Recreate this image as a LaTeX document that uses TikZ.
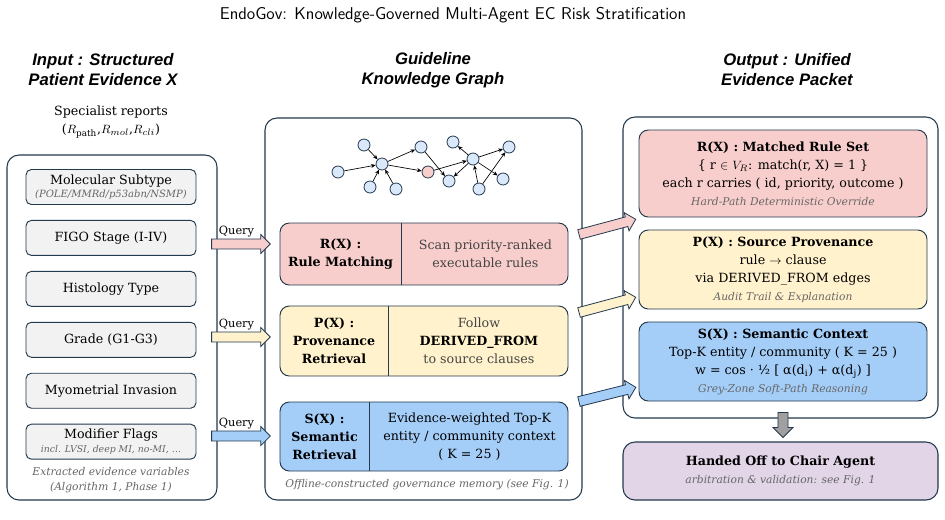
\documentclass[tikz,border=0pt]{standalone}
\usepackage{fontspec}
\setmainfont{DejaVu Serif}
\newfontfamily\headfont{Liberation Sans}
\usetikzlibrary{arrows.meta,positioning,shapes.arrows,calc}
\definecolor{EgLine}{HTML}{23394D}
\definecolor{EgGrey}{HTML}{F2F2F2}
\definecolor{EgPink}{HTML}{F8CECC}
\definecolor{EgYellow}{HTML}{FFF2CC}
\definecolor{EgBlue}{HTML}{A4CEF8}
\definecolor{EgLilac}{HTML}{E1D5E7}
\definecolor{EgNode}{HTML}{DAE8FC}
\definecolor{EgNote}{HTML}{666666}
\definecolor{EgSoft}{HTML}{444444}
\definecolor{EgDown}{HTML}{A0A0A0}
\newcommand\egcap{\fontsize{8}{10}\selectfont\itshape\color{EgNote}}
\tikzset{
  egpanel/.style={
    draw=EgLine,
    fill=white,
    rounded corners=9pt,
    line width=0.8pt
  },
  egfield/.style={
    draw=EgLine,
    fill=EgGrey,
    rounded corners=4pt,
    line width=0.7pt,
    minimum width=127.5pt,
    minimum height=26.25pt,
    align=center,
    inner sep=2pt,
    font=\fontsize{9.5}{11}\selectfont
  },
  egrule/.style={
    draw=EgLine,
    rounded corners=7pt,
    line width=0.7pt,
    minimum width=216pt
  },
  egtext/.style={font=\fontsize{9.5}{13.5}\selectfont,align=center},
  egbold/.style={font=\fontsize{9.5}{13.5}\selectfont\bfseries,align=center},
  egsoft/.style={egtext,text=EgSoft},
  egnote/.style={font=\fontsize{8}{11.5}\selectfont\itshape,text=EgNote,align=center},
  eghead/.style={font=\fontsize{12.5}{15}\selectfont\headfont\bfseries\itshape,align=center},
  egdot/.style={circle,draw=EgLine,fill=EgNode,line width=0.6pt,minimum size=9pt,inner sep=0pt},
  egedge/.style={-{Stealth[length=3.5pt,width=3pt]},line width=0.5pt},
  egblock/.style={
    single arrow,
    draw=EgLine,
    line width=0.6pt,
    inner xsep=0pt,
    inner ysep=3.4pt,
    single arrow head extend=3.4pt,
    single arrow head indent=0pt,
    minimum width=0pt,
    minimum height=44pt,
    midway,
    sloped,
    allow upside down
  }
}
\begin{document}
\begin{tikzpicture}[x=0.75pt,y=-0.75pt]
  \useasboundingbox (0,0) rectangle (945,519);
  % title and column heads
  \node[font=\fontsize{12.8}{14}\selectfont\sffamily] (title) at (453,15) {EndoGov: Knowledge-Governed Multi-Agent EC Risk Stratification};
  \node[eghead] (inhead) at (103,70) {Input : Structured\\Patient Evidence X};
  \node[eghead] (kghead) at (433,70) {Guideline\\Knowledge Graph};
  \node[eghead] (outhead) at (787,70) {Output : Unified\\Evidence Packet};

  % input column
  \node[egtext] (reports) at (111,122) {Specialist reports\\($R_{\mathrm{path}}$,$R_{mol}$,$R_{cli}$)};
  \node[egpanel,minimum width=157.5pt,minimum height=258.75pt] (input) at (112,327.5) {};
  \node[egfield] (subtype) at (111,187) {Molecular Subtype\\[-1pt]{\fontsize{7.5}{9}\selectfont\itshape\color{EgNote}(POLE/MMRd/p53abn/NSMP)}};
  \node[egfield,below=11.25pt of subtype] (figo) {FIGO Stage (I-IV)};
  \node[egfield,below=11.25pt of figo] (histo) {Histology Type};
  \node[egfield,below=11.25pt of histo] (grade) {Grade (G1-G3)};
  \node[egfield,below=11.25pt of grade] (myo) {Myometrial Invasion};
  \node[egfield,below=11.25pt of myo] (flags) {Modifier Flags\\[-1pt]{\fontsize{7}{9}\selectfont\itshape\color{EgNote}incl. LVSI, deep MI, no-MI, …}};
  \node[egnote] (extract) at (111,480) {Extracted evidence variables\\(Algorithm 1, Phase 1)};

  % guideline knowledge graph
  \node[egpanel,minimum width=237.75pt,minimum height=286.5pt] (kg) at (423.5,309) {};
  \node[egdot] (ga) at (338,172) {};
  \node[egdot] (gb) at (364,145) {};
  \node[egdot] (gc) at (382,164) {};
  \node[egdot] (gd) at (370,187) {};
  \node[egdot] (ge) at (396,189) {};
  \node[egdot] (gf) at (421,147) {};
  \node[egdot,fill=EgPink] (gg) at (428,172) {};
  \node[egdot] (gh) at (449,181) {};
  \node[egdot] (gi) at (453,142) {};
  \node[egdot] (gj) at (473,159) {};
  \node[egdot] (gk) at (509,147) {};
  \node[egdot] (gl) at (503,179) {};
  \node[egdot] (gm) at (479,189) {};
  \draw[egedge] (ga) -- (gc);
  \draw[egedge] (gb) -- (gc);
  \draw[egedge] (gd) -- (gc);
  \draw[egedge] (ge) -- (gc);
  \draw[egedge] (gc) -- (gf);
  \draw[egedge] (gc) -- (gg);
  \draw[egedge] (gf) -- (gh);
  \draw[egedge] (gg) -- (gj);
  \draw[egedge] (gj) -- (gh);
  \draw[egedge] (gj) -- (gi);
  \draw[egedge] (gj) -- (gk);
  \draw[egedge] (gj) -- (gl);
  \draw[egedge] (gm) -- (gj);
  \draw[egedge] (gm) -- (gk);

  \node[egrule,fill=EgPink,minimum height=46.5pt] (rx) at (424,254) {};
  \draw[EgLine,line width=0.7pt] ($(rx.north west)+(122,0)$) -- ($(rx.south west)+(122,0)$);
  \node[egbold] (rxname) at ($(rx.west)+(61,0)$) {R(X) :\\Rule Matching};
  \node[egsoft] (rxtext) at ($(rx.east)+(-83,0)$) {Scan priority-ranked\\executable rules};

  \node[egrule,fill=EgYellow,minimum height=52.5pt] (px) at (424,341) {};
  \draw[EgLine,line width=0.7pt] ($(px.north west)+(109,0)$) -- ($(px.south west)+(109,0)$);
  \node[egbold] (pxname) at ($(px.west)+(54.5,0)$) {P(X) :\\Provenance\\Retrieval};
  \node[egsoft] (pxtext) at ($(px.east)+(-89.5,0)$) {Follow\\\textbf{\color{black}DERIVED\_FROM}\\to source clauses};

  \node[egrule,fill=EgBlue,minimum height=51.75pt] (sx) at (424,436.5) {};
  \draw[EgLine,line width=0.7pt] ($(sx.north west)+(90,0)$) -- ($(sx.south west)+(90,0)$);
  \node[egbold] (sxname) at ($(sx.west)+(45,0)$) {S(X) :\\Semantic\\Retrieval};
  \node[egtext] (sxtext) at ($(sx.east)+(-99,0)$) {Evidence-weighted Top-K\\entity / community context\\( K = 25 )};
  \node[egnote] (kgnote) at (427,485) {Offline-constructed governance memory (see Fig. 1)};

  % output packet
  \node[egpanel,minimum width=236.25pt,minimum height=225.75pt] (out) at (780.5,267.5) {};
  \node[egrule,fill=EgPink,minimum height=65.25pt,egtext] (rset) at (783,173.5) {\textbf{R(X) : Matched Rule Set}\\\{ r $\in$ $V_R$: match(r, X) = 1 \}\\each r carries ( id, priority, outcome )\\{\egcap Hard-Path Deterministic Override}};
  \node[egrule,fill=EgYellow,minimum height=59.25pt,egtext] (pset) at (783,269.5) {\textbf{P(X) : Source Provenance}\\rule $\rightarrow$ clause\\via DERIVED\_FROM edges\\{\egcap Audit Trail \& Explanation}};
  \node[egrule,fill=EgBlue,minimum height=59.25pt,egtext] (sset) at (783,361.5) {\textbf{S(X) : Semantic Context}\\Top-K entity / community ( K = 25 )\\w = cos · ½ [ α(d\textsubscript{i}) + α(d\textsubscript{j}) ]\\{\egcap Grey-Zone Soft-Path Reasoning}};
  \node[egpanel,fill=EgLilac,minimum width=236.25pt,minimum height=43.5pt,egtext] (chair) at (780.5,471) {\textbf{Handed Off to Chair Agent}\\{\egcap arbitration \& validation: see Fig. 1}};

  % block arrows
  \coordinate (qa1) at (209,244);
  \coordinate (qb1) at (268,244);
  \coordinate (qa2) at (209,337);
  \coordinate (qb2) at (268,337);
  \coordinate (qa3) at (209,436);
  \coordinate (qb3) at (268,436);
  \path (qa1) -- (qb1) node[egblock,fill=EgPink] (qarr1) {};
  \path (qa2) -- (qb2) node[egblock,fill=EgYellow] (qarr2) {};
  \path (qa3) -- (qb3) node[egblock,fill=EgBlue] (qarr3) {};
  \node[egtext,font=\fontsize{8.5}{10}\selectfont] (qlab1) at ($(qarr1)+(-2,-12)$) {Query};
  \node[egtext,font=\fontsize{8.5}{10}\selectfont] (qlab2) at ($(qarr2)+(-2,-12)$) {Query};
  \node[egtext,font=\fontsize{8.5}{10}\selectfont] (qlab3) at ($(qarr3)+(-2,-12)$) {Query};
  \coordinate (oa1) at (577,235);
  \coordinate (ob1) at (633,220);
  \coordinate (oa2) at (577,313);
  \coordinate (ob2) at (633,298);
  \coordinate (oa3) at (577,402);
  \coordinate (ob3) at (633,388);
  \path (oa1) -- (ob1) node[egblock,fill=EgPink] (oarr1) {};
  \path (oa2) -- (ob2) node[egblock,fill=EgYellow] (oarr2) {};
  \path (oa3) -- (ob3) node[egblock,fill=EgBlue] (oarr3) {};
  \path ($(out.south)+(2.5,-8)$) -- ($(chair.north)+(2.5,-7)$) node[egblock,fill=EgDown,minimum height=18.75pt,inner ysep=3.5pt,single arrow head extend=3.75pt] (handoff) {};
\end{tikzpicture}
\end{document}
